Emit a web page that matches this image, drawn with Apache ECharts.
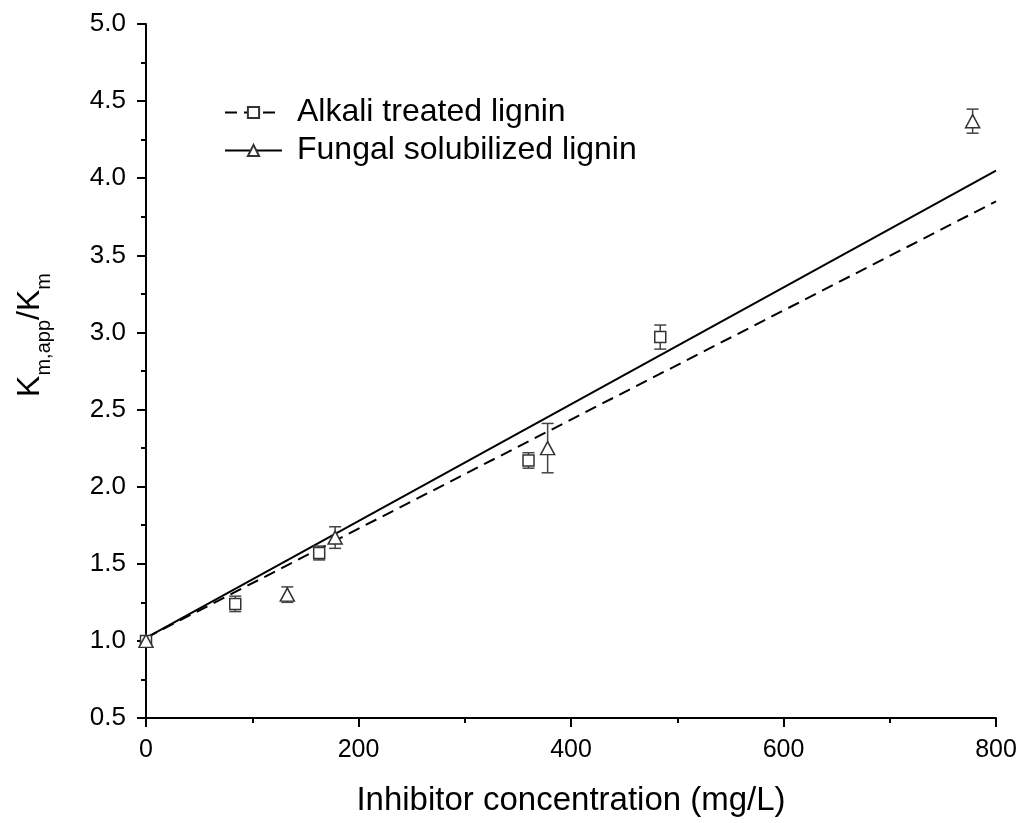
<!DOCTYPE html>
<html>
<head>
<meta charset="utf-8">
<script src="https://cdn.jsdelivr.net/npm/echarts@6/dist/echarts.min.js"></script>
<style>html,body{margin:0;padding:0;background:#fff}#c{width:1023px;height:823px}</style>
</head>
<body>
<div id="c"></div>
<script>
// Data
const alkaliX = [0, 84, 163, 360, 484];
const alkaliY = [1.00, 1.24, 1.57, 2.17, 2.97];
const alkaliErr = [0, 0.05, 0.045, 0.05, 0.078];
const fungalX = [0, 133, 178, 378, 778];
const fungalY = [1.00, 1.30, 1.67, 2.25, 4.37];
const fungalErr = [0, 0.05, 0.07, 0.16, 0.078];
const fitX = [0, 800];
const alkaliFit = [1.02, 3.85];
const fungalFit = [1.02, 4.05];
const xTicks = [0, 200, 400, 600, 800];
const yTicks = [0.5, 1.0, 1.5, 2.0, 2.5, 3.0, 3.5, 4.0, 4.5, 5.0];
const names = ['Alkali treated lignin', 'Fungal solubilized lignin'];

const FONT = 'Liberation Sans, Arial, sans-serif';
const pts = (xs, ys) => xs.map((x, i) => [x, ys[i]]);
const errData = (xs, ys, es) => xs.map((x, i) => [x, ys[i], es[i]]);

function errRender(params, api) {
  const x = api.value(0), y = api.value(1), e = api.value(2);
  if (!e) return null;
  const t = api.coord([x, y + e]);
  const b = api.coord([x, y - e]);
  const hw = 6;
  const st = { stroke: '#444', lineWidth: 1.5 };
  return {
    type: 'group',
    children: [
      { type: 'line', shape: { x1: t[0], y1: t[1], x2: b[0], y2: b[1] }, style: st },
      { type: 'line', shape: { x1: t[0] - hw, y1: t[1], x2: t[0] + hw, y2: t[1] }, style: st },
      { type: 'line', shape: { x1: b[0] - hw, y1: b[1], x2: b[0] + hw, y2: b[1] }, style: st }
    ]
  };
}

const chart = echarts.init(document.getElementById('c'));
chart.setOption({
  backgroundColor: '#fff',
  animation: false,
  textStyle: { fontFamily: FONT },
  grid: { left: 146, right: 27, top: 24, bottom: 105 },
  legend: {
    left: 219, top: 91, orient: 'vertical',
    itemWidth: 57, itemHeight: 14, itemGap: 5,
    data: names,
    textStyle: { fontSize: 32, fontFamily: FONT, color: '#000', lineHeight: 33, padding: [0, 0, 0, 10] }
  },
  xAxis: {
    type: 'value', min: 0, max: 800, interval: 200,
    name: 'Inhibitor concentration (mg/L)', nameLocation: 'middle', nameGap: 66,
    nameTextStyle: { fontSize: 33, fontFamily: FONT, color: '#000' },
    axisLine: { onZero: false, lineStyle: { color: '#000', width: 2 } },
    axisTick: { show: true, inside: false, length: 9, lineStyle: { color: '#000', width: 2 } },
    minorTick: { show: true, splitNumber: 2, length: 5, lineStyle: { color: '#000', width: 2 } },
    splitLine: { show: false },
    axisLabel: { fontSize: 25, color: '#000', margin: 20, fontFamily: FONT,
      formatter: v => xTicks.includes(v) ? String(v) : '' }
  },
  yAxis: {
    type: 'value', min: 0.5, max: 5.0, interval: 0.5,
    name: '{a|K}{s|m,app}{a|/K}{s|m}', nameLocation: 'middle', nameGap: 100, nameRotate: 90,
    nameTextStyle: {
      fontFamily: FONT, color: '#000', padding: [0, 0, 0, 72],
      rich: {
        a: { fontSize: 32, fontFamily: FONT, color: '#000', lineHeight: 40, verticalAlign: 'bottom' },
        s: { fontSize: 20, fontFamily: FONT, color: '#000', lineHeight: 40, verticalAlign: 'bottom', padding: [0, 0, -8, 0] }
      }
    },
    axisLine: { show: true, lineStyle: { color: '#000', width: 2 } },
    axisTick: { show: true, inside: false, length: 9, lineStyle: { color: '#000', width: 2 } },
    minorTick: { show: true, splitNumber: 2, length: 5, lineStyle: { color: '#000', width: 2 } },
    splitLine: { show: false },
    axisLabel: { fontSize: 26, color: '#000', margin: 20, fontFamily: FONT,
      formatter: v => { const t = yTicks.find(k => Math.abs(k - v) < 1e-6); return t === undefined ? '' : t.toFixed(1); } }
  },
  series: [
    {
      name: names[0], type: 'line', data: pts(fitX, alkaliFit),
      symbol: 'rect', symbolSize: 10, showSymbol: false,
      lineStyle: { color: '#000', width: 2, type: [12, 7] },
      itemStyle: { color: '#fff', borderColor: '#333', borderWidth: 1.2 },
      z: 3
    },
    {
      name: names[1], type: 'line', data: pts(fitX, fungalFit),
      symbol: 'triangle', symbolSize: 12, showSymbol: false,
      lineStyle: { color: '#000', width: 2, type: 'solid' },
      itemStyle: { color: '#fff', borderColor: '#333', borderWidth: 1.2 },
      z: 3
    },
    {
      name: 'errA', type: 'custom', renderItem: errRender,
      data: errData(alkaliX, alkaliY, alkaliErr), z: 4, silent: true
    },
    {
      name: 'errF', type: 'custom', renderItem: errRender,
      data: errData(fungalX, fungalY, fungalErr), z: 4, silent: true
    },
    {
      name: 'ptsA', type: 'scatter', data: pts(alkaliX, alkaliY),
      symbol: 'rect', symbolSize: 11,
      itemStyle: { color: '#fff', borderColor: '#333', borderWidth: 1.5, opacity: 1 },
      z: 5
    },
    {
      name: 'ptsF', type: 'scatter', data: pts(fungalX, fungalY),
      symbol: 'triangle', symbolSize: [14, 13],
      itemStyle: { color: '#fff', borderColor: '#333', borderWidth: 1.5, opacity: 1 },
      z: 5
    }
  ]
});
</script>
</body>
</html>
